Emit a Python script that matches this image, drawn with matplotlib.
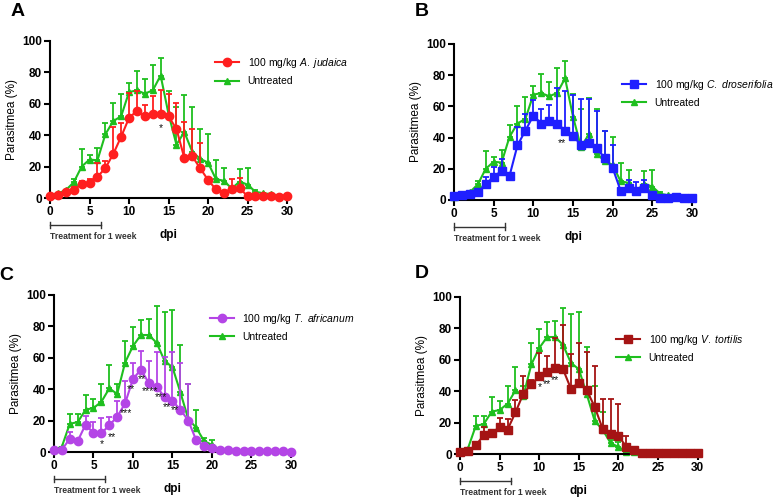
import numpy as np
import matplotlib
matplotlib.use("Agg")
import matplotlib.pyplot as plt
import matplotlib.transforms as mtransforms
from matplotlib.lines import Line2D

plt.rcParams['font.family'] = ['Liberation Sans', 'DejaVu Sans']
plt.rcParams['mathtext.fontset'] = 'custom'
plt.rcParams['mathtext.rm'] = 'Liberation Sans'
plt.rcParams['mathtext.it'] = 'Liberation Sans:italic'

days = np.arange(31)

# Untreated control (panels A, B)
untreated_ab = [2, 3, 5, 10, 20, 24.5, 24, 40.5, 49, 52, 67.5, 68.5, 66.5, 68.5, 78, 53.5,
                34, 42, 29.5, 25, 22.5, 12, 11, 6, 10.5, 8.5, 4, 3, 2.5, 1.5, 1.5]
untreated_ab_up = [2, 3, 5, 12, 31.5, 27.5, 32, 48, 60.5, 66, 73, 81, 75.5, 84.5, 89, 68,
                   58, 65.5, 58, 44, 40.5, 24, 19, 7, 18.5, 19, 5, 3, 2.5, 1.5, 1.5]

# Untreated control (panels C, D)
untreated_cd = [1.5, 3.5, 18, 19, 27, 28, 32, 40.5, 37, 57, 67.5, 74.5, 74.5, 69.5, 58, 54,
                38, 21, 15.5, 7, 4.5, 1.5, 1, 0.5, 0.5, 0.5, 0.5, 0.5, 0.5, 0.5, 0.5]
untreated_cd_up = [1.5, 3.5, 24.5, 24, 36, 34, 43.5, 55.5, 43, 70.5, 79.5, 84, 85, 93, 89, 90.5,
                   68, 43, 26.5, 9, 7.5, 1.5, 1, 0.5, 0.5, 0.5, 0.5, 0.5, 0.5, 0.5, 0.5]

judaica = [1.5, 2, 4, 5, 9, 9.5, 13.5, 19, 28, 39, 51, 55.5, 52, 53.5, 53.5, 52,
           44, 25.5, 26.5, 19, 11.5, 5.5, 3.5, 6, 6.5, 1, 1, 1.5, 1.5, 0.5, 1.5]
judaica_up = [1.5, 2, 4, 7, 11, 12, 22, 23.5, 45, 47.5, 67, 68, 59, 65, 69, 66,
              60.5, 48.5, 44, 35, 13, 6, 4, 12, 13, 1, 1, 1.5, 1.5, 0.5, 1.5]

droserifolia = [2.5, 3, 4, 5, 10, 15, 18.5, 15.5, 35, 44.5, 54, 49, 50.5, 49, 44.5, 41,
                35.5, 36.5, 33, 27, 20.5, 6, 8, 5.5, 8, 3.5, 1, 1.5, 2, 1, 1.5]
droserifolia_up = [2.5, 3, 4, 5, 15, 21, 26, 16, 47, 55, 64, 58.5, 61, 72, 70, 67,
                   64.5, 65, 57, 44, 35.5, 7, 13, 11.5, 13, 4, 1, 1.5, 2, 1, 1.5]

africanum = [1, 1.5, 8.5, 7, 17.5, 12, 12, 17, 22.5, 31, 46.5, 52.5, 44, 41.5, 35, 32.5,
             27, 20, 7.5, 4, 2.5, 1, 1.5, 0.5, 0.5, 0.5, 0.5, 0.5, 0.5, 0.5, 0.3]
africanum_up = [1, 1.5, 13, 7, 23, 19, 21.5, 22, 32.5, 45.5, 57, 64.5, 58, 63.5, 60.5, 64,
                56.5, 43, 8, 4, 2.5, 1, 1.5, 0.5, 0.5, 0.5, 0.5, 0.5, 0.5, 0.5, 0.3]

tortilis = [1.5, 2, 5.5, 12, 13.5, 17, 15.5, 26.5, 38.5, 44.5, 49.5, 52, 55, 54, 41.5, 45.5,
            40.5, 30, 16, 12.5, 11.5, 4.5, 2.5, 0.5, 0.7, 0.7, 0.5, 0.5, 0.5, 0.5, 0.5]
tortilis_up = [1.5, 2, 5.5, 17, 13.5, 23, 22.5, 34.5, 49.5, 47, 64, 62.5, 74, 82, 63.5, 70.5,
               65, 56, 35, 35, 32, 11.5, 3, 0.5, 0.7, 0.7, 0.5, 0.5, 0.5, 0.5, 0.5]

# significance marks (day, level, text)
stars_a = [(14, 47, '*')]
stars_b = [(13.6, 39, '**')]
stars_c = [(6.1, 7, '*'), (7.3, 12, '**'), (9.1, 27, '***'), (9.8, 42.5, '**'), (11.1, 48.5, '**'),
           (12.1, 41, '****'), (13.5, 37, '***'), (14.3, 31, '**'), (15.3, 29, '**')]
stars_d = [(10.1, 45, '*'), (11, 47, '**'), (12, 49, '**')]

panels = [
    ('A', 'A.\\ judaica', judaica, judaica_up, '#ff1f1f', 'o', untreated_ab, untreated_ab_up, stars_a,
     [0.0644, 0.6016, 0.305, 0.316], (0.68, 0.93), (18, 11)),
    ('B', 'C.\\ droserifolia', droserifolia, droserifolia_up, '#1f1fff', 's', untreated_ab, untreated_ab_up, stars_b,
     [0.5843, 0.5976, 0.3063, 0.314], (0.69, 0.81), (422, 11)),
    ('C', 'T.\\ africanum', africanum, africanum_up, '#b445e6', 'o', untreated_cd, untreated_cd_up, stars_c,
     [0.0695, 0.0905, 0.305, 0.316], (0.64, 0.92), (6, 275)),
    ('D', 'V.\\ tortilis', tortilis, tortilis_up, '#a51414', 's', untreated_cd, untreated_cd_up, stars_d,
     [0.592, 0.0865, 0.306, 0.316], (0.64, 0.80), (422, 273)),
]

green = '#1fbf1f'

fig = plt.figure(figsize=(7.77, 4.97), dpi=100)

for letter, name, mean, up, col, mk, ctl, ctl_up, stars, pos, leg_xy, lab_xy in panels:
    ax = fig.add_axes(pos)
    mean = np.array(mean)
    ctl = np.array(ctl)
    err = np.array(up) - mean
    cerr = np.array(ctl_up) - ctl

    ax.errorbar(days, mean, yerr=[np.zeros_like(err), err], color=col, marker=mk,
                markersize=6, lw=1.5, elinewidth=1.3, capsize=2.5, capthick=1.3,
                clip_on=False, zorder=3)
    ax.errorbar(days, ctl, yerr=[np.zeros_like(cerr), cerr], color=green, marker='^',
                markersize=5, lw=1.5, elinewidth=1.3, capsize=2.5, capthick=1.3,
                clip_on=False, zorder=2)

    # the asterisk glyph sits high in its box, so nudge it down to the read level
    for sx, sy, st in stars:
        ax.annotate(st, (sx, sy), xytext=(0, -2.5), textcoords='offset points',
                    ha='center', va='center', fontsize=7.5, color='#111111', zorder=4)

    ax.set_xlim(0, 30)
    ax.set_ylim(0, 100)
    ax.set_xticks([0, 5, 10, 15, 20, 25, 30])
    ax.set_yticks([0, 20, 40, 60, 80, 100])
    for s in ['top', 'right']:
        ax.spines[s].set_visible(False)
    for s in ['left', 'bottom']:
        ax.spines[s].set_linewidth(1.5)
    ax.tick_params(width=1.5, length=4, labelsize=8.5, pad=2)
    for t in ax.get_xticklabels() + ax.get_yticklabels():
        t.set_fontweight('bold')

    ax.set_ylabel('Parasitmea (%)', fontsize=8.5)
    ax.yaxis.set_label_coords(-0.135, 0.5)
    ax.set_xlabel('dpi', fontsize=8.5, fontweight='bold')
    ax.xaxis.set_label_coords(0.5, -0.2)

    # treatment bar
    tr = mtransforms.blended_transform_factory(ax.transData, ax.transAxes)
    ax.plot([0, 6.4], [-0.17, -0.17], color='#333333', lw=1, transform=tr, clip_on=False)
    for bx in [0, 6.4]:
        ax.plot([bx, bx], [-0.19, -0.15], color='#333333', lw=1, transform=tr, clip_on=False)
    ax.text(0, -0.245, 'Treatment for 1 week', fontsize=6.2, fontweight='bold', color='#333333',
            transform=tr, ha='left', va='center')

    handles = [Line2D([], [], color=col, marker=mk, markersize=6, lw=1.5),
               Line2D([], [], color=green, marker='^', markersize=5, lw=1.5)]
    labels = ['100 mg/kg $\\it{%s}$' % name, 'Untreated']
    ax.legend(handles, labels, loc='upper left', bbox_to_anchor=leg_xy, frameon=False,
              fontsize=7.5, handlelength=2.3, borderaxespad=0, labelspacing=0.6)

    fig.text(lab_xy[0] / 777, 1 - lab_xy[1] / 497, letter, fontsize=14, fontweight='bold',
             ha='center', va='center')

fig.savefig('out.png', dpi=100)
